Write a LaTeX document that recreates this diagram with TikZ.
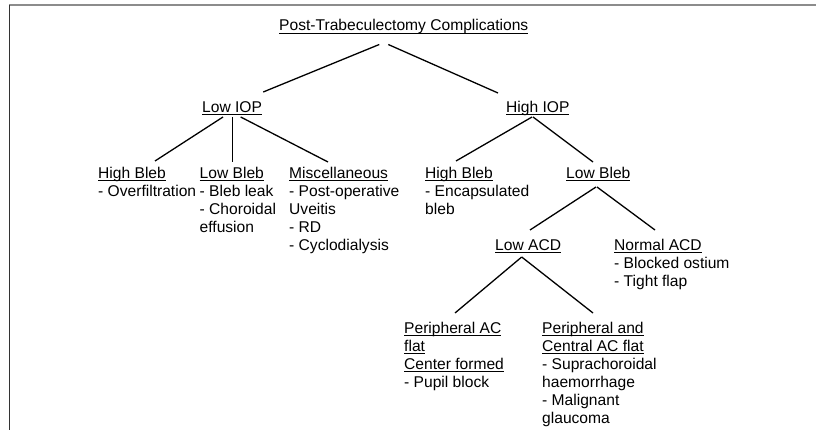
\documentclass[tikz,border=0pt]{standalone}
\usepackage{fontspec}
\setmainfont{Liberation Sans}
\newsavebox\undlbox
\newcommand{\undl}[1]{\sbox\undlbox{#1}\rlap{\rule[-2.5pt]{\wd\undlbox}{0.8pt}}\usebox\undlbox}
\tikzset{
	lbl/.style={black, anchor=north west, inner sep=0pt, align=left, font=\fontsize{15.6}{18}\selectfont},
	branch/.style={draw=black, line width=1.3pt, solid},
}
\begin{document}
\begin{tikzpicture}[x=1pt, y=-1pt]
		\useasboundingbox (0,0) rectangle (816,430);
		% frame
		\draw[draw=black!45, line width=2pt] (9,5.5) -- (816,5.5);
		\draw[draw=black!80, line width=1.5pt] (9.5,5) -- (9.5,430);
		% labels
		\node[lbl] (title) at (279,19.5) {\undl{Post-Trabeculectomy Complications}};
		\node[lbl] (lowiop) at (202,101) {\undl{Low IOP}};
		\node[lbl] (highiop) at (506,101) {\undl{High IOP}};
		\node[lbl] (hblebA) at (98,167) {\undl{High Bleb}\\- Overfiltration};
		\node[lbl] (lblebA) at (199.5,167) {\undl{Low Bleb}\\- Bleb leak\\- Choroidal\\effusion};
		\node[lbl] (misc) at (289,167) {\undl{Miscellaneous}\\- Post-operative\\Uveitis\\- RD\\- Cyclodialysis};
		\node[lbl] (hblebB) at (425,167) {\undl{High Bleb}\\- Encapsulated\\bleb};
		\node[lbl] (lblebB) at (566,167) {\undl{Low Bleb}};
		\node[lbl] (lowacd) at (495,239) {\undl{Low ACD}};
		\node[lbl] (normacd) at (614,239) {\undl{Normal ACD}\\- Blocked ostium\\- Tight flap};
		\node[lbl] (pacflat) at (404,322) {\undl{Peripheral AC}\\\undl{flat}\\\undl{Center formed}\\- Pupil block};
		\node[lbl] (pcacflat) at (542,322) {\undl{Peripheral and}\\\undl{Central AC flat}\\- Suprachoroidal\\haemorrhage\\- Malignant\\glaucoma};
		% branches
		\draw[branch] ([shift={(-24.5,25)}]title.north) -- ([shift={(1,-9)}]lowiop.north east);
		\draw[branch] ([shift={(-15.5,25)}]title.north) -- ([shift={(-8,-8)}]highiop.north west);
		\draw[branch] ([shift={(21,16)}]lowiop.north west) -- ([shift={(57,-6)}]hblebA.north west);
		\draw[branch] ([shift={(30.5,16)}]lowiop.north west) -- ([shift={(33,-5)}]lblebA.north west);
		\draw[branch] ([shift={(38.7,16)}]lowiop.north west) -- ([shift={(39,-5)}]misc.north west);
		\draw[branch] ([shift={(26,16)}]highiop.north west) -- ([shift={(31,-6)}]hblebB.north west);
		\draw[branch] ([shift={(27,16)}]highiop.north west) -- ([shift={(27,-5)}]lblebB.north west);
		\draw[branch] ([shift={(30,20)}]lblebB.north west) -- ([shift={(35,-9)}]lowacd.north west);
		\draw[branch] ([shift={(31,20)}]lblebB.north west) -- ([shift={(41,-9)}]normacd.north west);
		\draw[branch] ([shift={(26.7,18)}]lowacd.north west) -- ([shift={(51,-9)}]pacflat.north west);
		\draw[branch] ([shift={(26.7,18)}]lowacd.north west) -- ([shift={(51,-9)}]pcacflat.north west);
	\end{tikzpicture}
\end{document}
